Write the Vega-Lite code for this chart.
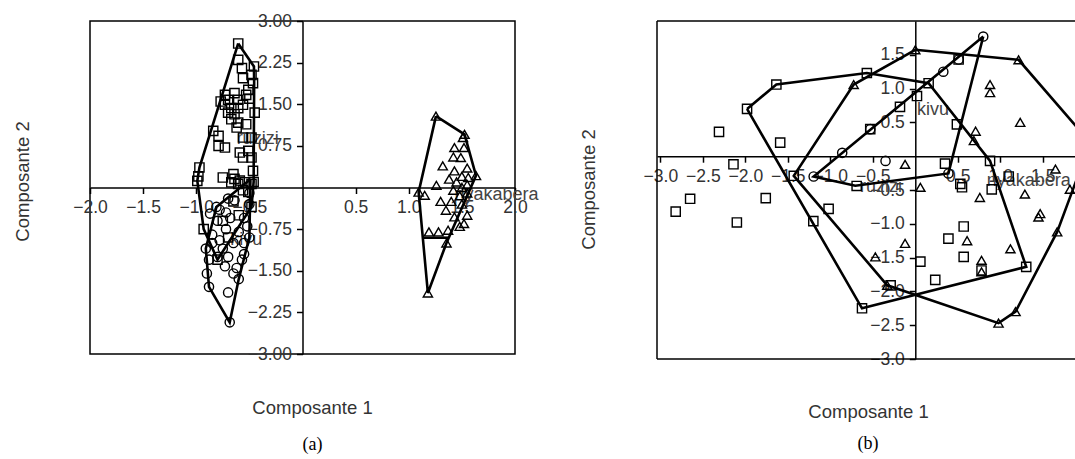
{
  "$schema": "https://vega.github.io/schema/vega-lite/v6.json",
  "padding": {"left": 12, "top": 11, "right": 0, "bottom": 0},
  "spacing": 142,
  "bounds": "flush",
  "config": {
    "font": "Liberation Sans",
    "view": {"stroke": "black", "strokeWidth": 1.5},
    "axis": {"grid": false, "domainColor": "black", "domainWidth": 1.5, "tickColor": "black", "tickWidth": 1.5, "tickSize": 6, "labelFontSize": 17.5, "labelColor": "#333", "labelFlush": false, "labelOverlap": false, "labelPadding": 5, "titleFontSize": 18.5, "titleColor": "#333", "titleFontWeight": "normal"},
    "title": {"font": "Liberation Serif", "fontSize": 18, "fontWeight": "normal", "color": "black"}
  },
  "datasets": {
    "a_pts": [
      {"g":"ruzizi","x":-0.605,"y":2.595},{"g":"ruzizi","x":-0.605,"y":2.30},{"g":"ruzizi","x":-0.457,"y":2.18},{"g":"ruzizi","x":-0.57,"y":2.15},{"g":"ruzizi","x":-0.48,"y":2.03},{"g":"ruzizi","x":-0.56,"y":1.97},{"g":"ruzizi","x":-0.466,"y":1.88},{"g":"ruzizi","x":-0.51,"y":1.76},{"g":"ruzizi","x":-0.64,"y":1.70},{"g":"ruzizi","x":-0.73,"y":1.67},{"g":"ruzizi","x":-0.53,"y":1.67},{"g":"ruzizi","x":-0.70,"y":1.58},{"g":"ruzizi","x":-0.605,"y":1.58},{"g":"ruzizi","x":-0.50,"y":1.60},{"g":"ruzizi","x":-0.77,"y":1.55},{"g":"ruzizi","x":-0.56,"y":1.49},{"g":"ruzizi","x":-0.73,"y":1.49},{"g":"ruzizi","x":-0.67,"y":1.43},{"g":"ruzizi","x":-0.605,"y":1.43},{"g":"ruzizi","x":-0.45,"y":1.35},{"g":"ruzizi","x":-0.70,"y":1.35},{"g":"ruzizi","x":-0.64,"y":1.32},{"g":"ruzizi","x":-0.67,"y":1.23},{"g":"ruzizi","x":-0.605,"y":1.17},{"g":"ruzizi","x":-0.53,"y":1.14},{"g":"ruzizi","x":-0.62,"y":1.08},{"g":"ruzizi","x":-0.84,"y":1.02},{"g":"ruzizi","x":-0.79,"y":0.93},{"g":"ruzizi","x":-0.56,"y":0.90},{"g":"ruzizi","x":-0.48,"y":0.90},{"g":"ruzizi","x":-0.79,"y":0.75},{"g":"ruzizi","x":-0.73,"y":0.72},{"g":"ruzizi","x":-0.51,"y":0.66},{"g":"ruzizi","x":-0.59,"y":0.63},{"g":"ruzizi","x":-0.56,"y":0.54},{"g":"ruzizi","x":-0.48,"y":0.54},{"g":"ruzizi","x":-0.97,"y":0.36},{"g":"ruzizi","x":-0.466,"y":0.30},{"g":"ruzizi","x":-0.65,"y":0.24},{"g":"ruzizi","x":-0.98,"y":0.20},{"g":"ruzizi","x":-0.75,"y":0.18},{"g":"ruzizi","x":-0.64,"y":0.155},{"g":"ruzizi","x":-0.59,"y":0.125},{"g":"ruzizi","x":-0.99,"y":0.12},{"g":"ruzizi","x":-0.46,"y":0.10},{"g":"ruzizi","x":-0.54,"y":0.095},{"g":"ruzizi","x":-0.67,"y":0.095},{"g":"ruzizi","x":-0.48,"y":0.065},{"g":"ruzizi","x":-0.605,"y":0.065},{"g":"ruzizi","x":-0.56,"y":-0.05},{"g":"ruzizi","x":-0.51,"y":-0.08},{"g":"ruzizi","x":-0.65,"y":-0.25},{"g":"ruzizi","x":-0.48,"y":-0.35},{"g":"ruzizi","x":-0.6,"y":-0.5},{"g":"ruzizi","x":-0.75,"y":-0.6},{"g":"ruzizi","x":-0.93,"y":-0.75},{"g":"ruzizi","x":-0.7,"y":-0.9},{"g":"ruzizi","x":-0.8,"y":-1.3},
      {"g":"kivu","x":-0.685,"y":-2.43},{"g":"kivu","x":-0.88,"y":-1.79},{"g":"kivu","x":-0.70,"y":-1.89},{"g":"kivu","x":-0.60,"y":-1.65},{"g":"kivu","x":-0.62,"y":-1.45},{"g":"kivu","x":-0.57,"y":-1.30},{"g":"kivu","x":-0.73,"y":-1.42},{"g":"kivu","x":-0.91,"y":-1.10},{"g":"kivu","x":-0.88,"y":-1.30},{"g":"kivu","x":-0.80,"y":-1.25},{"g":"kivu","x":-0.70,"y":-1.25},{"g":"kivu","x":-0.65,"y":-1.00},{"g":"kivu","x":-0.55,"y":-1.00},{"g":"kivu","x":-0.78,"y":-0.95},{"g":"kivu","x":-0.85,"y":-0.85},{"g":"kivu","x":-0.72,"y":-0.75},{"g":"kivu","x":-0.60,"y":-0.80},{"g":"kivu","x":-0.52,"y":-0.70},{"g":"kivu","x":-0.80,"y":-0.60},{"g":"kivu","x":-0.68,"y":-0.55},{"g":"kivu","x":-0.55,"y":-0.55},{"g":"kivu","x":-0.78,"y":-0.40},{"g":"kivu","x":-0.64,"y":-0.23},{"g":"kivu","x":-0.70,"y":-0.20},{"g":"kivu","x":-0.81,"y":-0.35},{"g":"kivu","x":-0.50,"y":-0.30},{"g":"kivu","x":-0.50,"y":-0.10},{"g":"kivu","x":-0.90,"y":-1.55},{"g":"kivu","x":-0.75,"y":-1.10},{"g":"kivu","x":-0.65,"y":-1.55},{"g":"kivu","x":-0.55,"y":-1.20},{"g":"kivu","x":-0.85,"y":-1.00},{"g":"kivu","x":-0.72,"y":-0.45},{"g":"kivu","x":-0.50,"y":-0.90},{"g":"kivu","x":-0.87,"y":-0.47},
      {"g":"nyakabera","x":1.256,"y":1.286},{"g":"nyakabera","x":1.525,"y":0.958},{"g":"nyakabera","x":1.51,"y":0.90},{"g":"nyakabera","x":1.43,"y":0.72},{"g":"nyakabera","x":1.52,"y":0.72},{"g":"nyakabera","x":1.42,"y":0.55},{"g":"nyakabera","x":1.49,"y":0.54},{"g":"nyakabera","x":1.32,"y":0.39},{"g":"nyakabera","x":1.43,"y":0.30},{"g":"nyakabera","x":1.55,"y":0.35},{"g":"nyakabera","x":1.633,"y":0.214},{"g":"nyakabera","x":1.56,"y":0.18},{"g":"nyakabera","x":1.50,"y":0.20},{"g":"nyakabera","x":1.38,"y":0.15},{"g":"nyakabera","x":1.45,"y":0.10},{"g":"nyakabera","x":1.55,"y":0.05},{"g":"nyakabera","x":1.50,"y":0.00},{"g":"nyakabera","x":1.42,"y":-0.05},{"g":"nyakabera","x":1.48,"y":-0.15},{"g":"nyakabera","x":1.55,"y":-0.10},{"g":"nyakabera","x":1.40,"y":-0.25},{"g":"nyakabera","x":1.50,"y":-0.30},{"g":"nyakabera","x":1.35,"y":-0.41},{"g":"nyakabera","x":1.43,"y":-0.53},{"g":"nyakabera","x":1.55,"y":-0.50},{"g":"nyakabera","x":1.52,"y":-0.65},{"g":"nyakabera","x":1.48,"y":-0.70},{"g":"nyakabera","x":1.37,"y":-0.77},{"g":"nyakabera","x":1.19,"y":-0.80},{"g":"nyakabera","x":1.28,"y":-0.80},{"g":"nyakabera","x":1.26,"y":0.04},{"g":"nyakabera","x":1.093,"y":-0.083},{"g":"nyakabera","x":1.15,"y":-0.14},{"g":"nyakabera","x":1.355,"y":-1.00},{"g":"nyakabera","x":1.18,"y":-1.90},{"g":"nyakabera","x":1.30,"y":-0.25}
    ],
    "a_hull": [
      {"p":"r","o":1,"x":-0.605,"y":2.595},{"p":"r","o":2,"x":-0.457,"y":2.18},{"p":"r","o":3,"x":-0.455,"y":1.9},{"p":"r","o":4,"x":-0.46,"y":0.1},{"p":"r","o":5,"x":-0.48,"y":-0.35},{"p":"r","o":6,"x":-0.8,"y":-1.3},{"p":"r","o":7,"x":-0.93,"y":-0.75},{"p":"r","o":8,"x":-0.99,"y":0.12},{"p":"r","o":9,"x":-0.97,"y":0.36},{"p":"r","o":10,"x":-0.605,"y":2.595},
      {"p":"k","o":1,"x":-0.49,"y":0.15},{"p":"k","o":2,"x":-0.81,"y":-0.35},{"p":"k","o":3,"x":-0.91,"y":-1.10},{"p":"k","o":4,"x":-0.88,"y":-1.79},{"p":"k","o":5,"x":-0.685,"y":-2.43},{"p":"k","o":6,"x":-0.6,"y":-1.65},{"p":"k","o":7,"x":-0.5,"y":-0.9},{"p":"k","o":8,"x":-0.49,"y":0.15},
      {"p":"n","o":1,"x":1.256,"y":1.286},{"p":"n","o":2,"x":1.525,"y":0.958},{"p":"n","o":3,"x":1.633,"y":0.214},{"p":"n","o":4,"x":1.355,"y":-1.0},{"p":"n","o":5,"x":1.18,"y":-1.90},{"p":"n","o":6,"x":1.093,"y":-0.083},{"p":"n","o":7,"x":1.256,"y":1.286},
      {"p":"n2","o":1,"x":1.14,"y":-0.905},{"p":"n2","o":2,"x":1.37,"y":-0.905}
    ],
    "a_lab": [
      {"g":"ruzizi","x":-0.62,"y":0.87},{"g":"kivu","x":-0.68,"y":-0.95},{"g":"nyakabera","x":1.43,"y":-0.14}
    ],
    "b_pts": [
      {"g":"ruzizi","x":-1.98,"y":0.70},{"g":"ruzizi","x":-1.635,"y":1.06},{"g":"ruzizi","x":-0.57,"y":1.23},{"g":"ruzizi","x":0.157,"y":1.08},{"g":"ruzizi","x":-0.18,"y":0.73},{"g":"ruzizi","x":-0.53,"y":0.40},{"g":"ruzizi","x":-2.31,"y":0.36},{"g":"ruzizi","x":-1.59,"y":0.20},{"g":"ruzizi","x":-2.14,"y":-0.12},{"g":"ruzizi","x":-2.65,"y":-0.63},{"g":"ruzizi","x":-2.82,"y":-0.82},{"g":"ruzizi","x":-1.76,"y":-0.62},{"g":"ruzizi","x":-2.10,"y":-0.98},{"g":"ruzizi","x":-1.43,"y":-0.29},{"g":"ruzizi","x":-1.02,"y":-0.78},{"g":"ruzizi","x":-1.20,"y":-0.96},{"g":"ruzizi","x":-0.69,"y":-0.44},{"g":"ruzizi","x":-0.627,"y":-2.25},{"g":"ruzizi","x":-0.29,"y":-1.91},{"g":"ruzizi","x":0.06,"y":-1.56},{"g":"ruzizi","x":0.235,"y":-1.83},{"g":"ruzizi","x":0.35,"y":-0.11},{"g":"ruzizi","x":0.53,"y":-0.41},{"g":"ruzizi","x":0.55,"y":-0.46},{"g":"ruzizi","x":0.88,"y":-0.07},{"g":"ruzizi","x":0.90,"y":-0.49},{"g":"ruzizi","x":1.10,"y":-0.30},{"g":"ruzizi","x":1.306,"y":-1.637},{"g":"ruzizi","x":0.39,"y":-1.22},{"g":"ruzizi","x":0.57,"y":-1.04},{"g":"ruzizi","x":0.57,"y":-1.49},{"g":"ruzizi","x":0.78,"y":-1.69},{"g":"ruzizi","x":0.49,"y":0.47},{"g":"ruzizi","x":0.02,"y":0.89},{"g":"ruzizi","x":0.51,"y":1.43},
      {"g":"kivu","x":0.80,"y":1.77},{"g":"kivu","x":0.51,"y":1.43},{"g":"kivu","x":0.33,"y":1.25},{"g":"kivu","x":-0.53,"y":0.40},{"g":"kivu","x":-0.86,"y":0.05},{"g":"kivu","x":-1.196,"y":-0.30},{"g":"kivu","x":-0.35,"y":-0.07},{"g":"kivu","x":0.39,"y":-0.255},
      {"g":"nyakabera","x":0.0,"y":1.574},{"g":"nyakabera","x":1.216,"y":1.426},{"g":"nyakabera","x":-0.725,"y":1.06},{"g":"nyakabera","x":0.88,"y":1.06},{"g":"nyakabera","x":0.88,"y":0.94},{"g":"nyakabera","x":1.235,"y":0.50},{"g":"nyakabera","x":0.71,"y":0.37},{"g":"nyakabera","x":0.69,"y":0.23},{"g":"nyakabera","x":-0.12,"y":-0.12},{"g":"nyakabera","x":0.06,"y":-0.46},{"g":"nyakabera","x":0.76,"y":-0.61},{"g":"nyakabera","x":1.29,"y":-0.56},{"g":"nyakabera","x":1.47,"y":-0.85},{"g":"nyakabera","x":1.45,"y":-0.90},{"g":"nyakabera","x":1.65,"y":-0.19},{"g":"nyakabera","x":1.67,"y":-1.12},{"g":"nyakabera","x":1.82,"y":-0.49},{"g":"nyakabera","x":-0.12,"y":-1.29},{"g":"nyakabera","x":-0.47,"y":-1.49},{"g":"nyakabera","x":0.61,"y":-1.25},{"g":"nyakabera","x":0.78,"y":-1.54},{"g":"nyakabera","x":0.78,"y":-1.71},{"g":"nyakabera","x":1.12,"y":-1.37},{"g":"nyakabera","x":1.18,"y":-2.30},{"g":"nyakabera","x":0.98,"y":-2.47},{"g":"nyakabera","x":-0.33,"y":-1.91},{"g":"nyakabera","x":2.06,"y":0.2}
    ],
    "b_hull": [
      {"p":"r","o":1,"x":-1.98,"y":0.70},{"p":"r","o":2,"x":-1.635,"y":1.06},{"p":"r","o":3,"x":-0.57,"y":1.23},{"p":"r","o":4,"x":0.157,"y":1.08},{"p":"r","o":5,"x":0.88,"y":-0.07},{"p":"r","o":6,"x":1.306,"y":-1.637},{"p":"r","o":7,"x":-0.627,"y":-2.25},{"p":"r","o":8,"x":-1.98,"y":0.70},
      {"p":"t","o":1,"x":0.0,"y":1.574},{"p":"t","o":2,"x":1.216,"y":1.426},{"p":"t","o":3,"x":2.06,"y":0.2},{"p":"t","o":4,"x":1.67,"y":-1.12},{"p":"t","o":5,"x":1.18,"y":-2.30},{"p":"t","o":6,"x":0.98,"y":-2.47},{"p":"t","o":7,"x":-0.33,"y":-1.91},{"p":"t","o":8,"x":-1.43,"y":-0.29},{"p":"t","o":9,"x":-0.725,"y":1.06},{"p":"t","o":10,"x":0.0,"y":1.574},
      {"p":"k","o":1,"x":0.80,"y":1.77},{"p":"k","o":2,"x":0.39,"y":-0.255},{"p":"k","o":3,"x":-0.706,"y":-0.436},{"p":"k","o":4,"x":-1.196,"y":-0.30},{"p":"k","o":5,"x":0.80,"y":1.77}
    ],
    "b_lab": [
      {"g":"kivu","x":0.02,"y":0.69},{"g":"ruzizi","x":-0.65,"y":-0.46},{"g":"nyakabera","x":0.84,"y":-0.36}
    ],
    "one": [{}]
  },
  "hconcat": [
    {
      "width": 425,
      "height": 333,
      "title": {"text": "(a)", "orient": "bottom", "anchor": "middle", "frame": "group", "dx": 10, "offset": 19},
      "layer": [
        {
          "data": {"name": "a_lab"},
          "mark": {"type": "text", "align": "left", "baseline": "middle", "fontSize": 18, "color": "#444"},
          "encoding": {
            "x": {"field": "x", "type": "quantitative", "scale": {"domain": [-2, 2], "nice": false, "zero": false},
              "axis": {"values": [-2, -1.5, -1, -0.5, 0.5, 1, 1.5, 2], "format": ".1f", "offset": -166.5, "title": "Composante 1", "titleX": 222, "titleY": 220, "titleBaseline": "middle"}},
            "y": {"field": "y", "type": "quantitative", "scale": {"domain": [-3, 3], "nice": false, "zero": false},
              "axis": {"values": [-3, -2.25, -1.5, -0.75, 0.75, 1.5, 2.25, 3], "format": ".2f", "offset": -212.5, "title": "Composante 2", "titleX": -280.5, "titleY": 160, "titleBaseline": "middle", "titleAngle": -90}},
            "text": {"field": "g"}
          }
        },
        {
          "data": {"name": "a_pts"},
          "mark": {"type": "point", "filled": false, "color": "black", "strokeWidth": 1.4, "size": 85, "opacity": 1, "clip": true},
          "encoding": {
            "x": {"field": "x", "type": "quantitative"},
            "y": {"field": "y", "type": "quantitative"},
            "shape": {"field": "g", "type": "nominal", "scale": {"domain": ["ruzizi", "kivu", "nyakabera"], "range": ["square", "circle", "triangle-up"]}, "legend": null}
          }
        },
        {
          "data": {"name": "a_hull"},
          "mark": {"type": "line", "color": "black", "strokeWidth": 2.6, "clip": true},
          "encoding": {
            "x": {"field": "x", "type": "quantitative"},
            "y": {"field": "y", "type": "quantitative"},
            "detail": {"field": "p"},
            "order": {"field": "o"}
          }
        }
      ]
    },
    {
      "width": 418,
      "height": 338,
      "view": {"stroke": null},
      "title": {"text": "(b)", "orient": "bottom", "anchor": "middle", "frame": "group", "dx": 2, "offset": 14},
      "layer": [
        {
          "data": {"name": "b_lab"},
          "mark": {"type": "text", "align": "left", "baseline": "middle", "fontSize": 18, "color": "#444", "clip": true},
          "encoding": {
            "x": {"field": "x", "type": "quantitative", "scale": {"domain": [-3.04, 1.88], "nice": false, "zero": false},
              "axis": {"values": [-3, -2.5, -2, -1.5, -1, -0.5, 0.5, 1, 1.5], "format": ".1f", "offset": -202.8, "title": "Composante 1", "titleX": 211, "titleY": 255, "titleBaseline": "middle"}},
            "y": {"field": "y", "type": "quantitative", "scale": {"domain": [-3, 2], "nice": false, "zero": false},
              "axis": {"values": [-3, -2.5, -2, -1.5, -1, -0.5, 0.5, 1, 1.5], "format": ".1f", "offset": -258.3, "title": "Composante 2", "titleX": -327, "titleY": 168, "titleBaseline": "middle", "titleAngle": -90}},
            "text": {"field": "g"}
          }
        },
        {
          "data": {"name": "b_pts"},
          "mark": {"type": "point", "filled": false, "color": "black", "strokeWidth": 1.4, "size": 85, "opacity": 1, "clip": true},
          "encoding": {
            "x": {"field": "x", "type": "quantitative"},
            "y": {"field": "y", "type": "quantitative"},
            "shape": {"field": "g", "type": "nominal", "scale": {"domain": ["ruzizi", "kivu", "nyakabera"], "range": ["square", "circle", "triangle-up"]}, "legend": null}
          }
        },
        {
          "data": {"name": "b_hull"},
          "mark": {"type": "line", "color": "black", "strokeWidth": 2.6, "clip": true},
          "encoding": {
            "x": {"field": "x", "type": "quantitative"},
            "y": {"field": "y", "type": "quantitative"},
            "detail": {"field": "p"},
            "order": {"field": "o"}
          }
        },
        {
          "data": {"name": "one"},
          "mark": {"type": "rule", "color": "black", "strokeWidth": 1.5},
          "encoding": {"y": {"datum": 2}}
        },
        {
          "data": {"name": "one"},
          "mark": {"type": "rule", "color": "black", "strokeWidth": 1.5},
          "encoding": {"y": {"datum": -3}}
        },
        {
          "data": {"name": "one"},
          "mark": {"type": "rule", "color": "black", "strokeWidth": 1.5},
          "encoding": {"x": {"datum": -3.04}}
        }
      ]
    }
  ]
}
